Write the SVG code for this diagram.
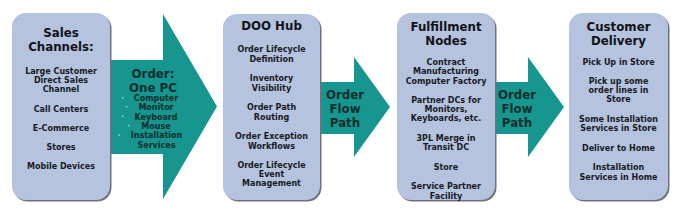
<svg xmlns="http://www.w3.org/2000/svg" width="682" height="213" viewBox="0 0 682 213">
<style>
.bg{fill:#ffffff}
.arrow{fill:#17968f}
.box{fill:#b6c3de}
.shadow{fill:#6d727d}
.title{font-family:"DejaVu Sans",Verdana,sans-serif;font-weight:bold;font-size:11.8px;fill:#111318;text-anchor:middle}
.body{font-family:"DejaVu Sans",Verdana,sans-serif;font-weight:bold;font-size:8px;fill:#161a24;text-anchor:middle}
.atitle{font-family:"DejaVu Sans",Verdana,sans-serif;font-weight:bold;font-size:11.8px;fill:#0c2e2d;text-anchor:middle}
.abody{font-family:"DejaVu Sans",Verdana,sans-serif;font-weight:bold;font-size:8px;fill:#0c2e2d;text-anchor:middle}
.bullet{fill:#8cc7b4}
</style>
<rect class="bg" x="0" y="0" width="682" height="213"/>
<g id="connectors">
  <g id="arrow-order">
    <polygon class="arrow" points="100,60 163,60 163,14 217,106.5 163,199 163,154 100,154"/>
    <text class="atitle" x="153" y="78">Order:</text>
    <text class="atitle" x="153" y="91.5">One PC</text>
    <circle class="bullet" cx="122.7" cy="97.7" r="1"/>
    <circle class="bullet" cx="126.7" cy="106.7" r="1"/>
    <circle class="bullet" cx="122.7" cy="116.2" r="1"/>
    <circle class="bullet" cx="129" cy="125.5" r="1"/>
    <circle class="bullet" cx="119" cy="135" r="1"/>
    <text class="abody" x="156" y="101.3">Computer</text>
    <text class="abody" x="156" y="110.3">Monitor</text>
    <text class="abody" x="156" y="119.6">Keyboard</text>
    <text class="abody" x="156" y="128.8">Mouse</text>
    <text class="abody" x="156.5" y="138.3">Installation</text>
    <text class="abody" x="156.5" y="147.8">Services</text>
  </g>
  <g id="arrow-flow-1">
    <polygon class="arrow" points="312,82 354,82 354,57 390,107 354,157 354,134 312,134"/>
    <text class="atitle" x="345" y="98.5">Order</text>
    <text class="atitle" x="345" y="112.5">Flow</text>
    <text class="atitle" x="345" y="126.5">Path</text>
  </g>
  <g id="arrow-flow-2">
    <polygon class="arrow" points="487,82 528,82 528,57 564,107 528,157 528,134 487,134"/>
    <text class="atitle" x="517" y="98.5">Order</text>
    <text class="atitle" x="517" y="112.5">Flow</text>
    <text class="atitle" x="517" y="126.5">Path</text>
  </g>
</g>
<g id="sales-channels">
  <rect class="shadow" x="13.5" y="14.5" width="98" height="187" rx="14"/>
  <rect class="box" x="12" y="13" width="98" height="187" rx="14"/>
  <text class="title" x="61" y="37">Sales</text>
  <text class="title" x="61" y="51">Channels:</text>
  <text class="body" x="61" y="74">Large Customer</text>
  <text class="body" x="61" y="83">Direct Sales</text>
  <text class="body" x="61" y="92.3">Channel</text>
  <text class="body" x="61" y="111.7">Call Centers</text>
  <text class="body" x="61" y="130.7">E-Commerce</text>
  <text class="body" x="61" y="150.3">Stores</text>
  <text class="body" x="61" y="169">Mobile Devices</text>
</g>
<g id="doo-hub">
  <rect class="shadow" x="224.5" y="15.5" width="97" height="186" rx="14"/>
  <rect class="box" x="223" y="14" width="97" height="186" rx="14"/>
  <text class="title" x="271.5" y="29.5">DOO Hub</text>
  <text class="body" x="271.5" y="52.3">Order Lifecycle</text>
  <text class="body" x="271.5" y="62">Definition</text>
  <text class="body" x="271.5" y="81.3">Inventory</text>
  <text class="body" x="271.5" y="91.3">Visibility</text>
  <text class="body" x="271.5" y="110.3">Order Path</text>
  <text class="body" x="271.5" y="119.7">Routing</text>
  <text class="body" x="271.5" y="139">Order Exception</text>
  <text class="body" x="271.5" y="148.7">Workflows</text>
  <text class="body" x="271.5" y="168">Order Lifecycle</text>
  <text class="body" x="271.5" y="177">Event</text>
  <text class="body" x="271.5" y="186.3">Management</text>
</g>
<g id="fulfillment-nodes">
  <rect class="shadow" x="398.5" y="14.5" width="98" height="187" rx="14"/>
  <rect class="box" x="397" y="13" width="98" height="187" rx="14"/>
  <text class="title" x="446" y="30.5">Fulfillment</text>
  <text class="title" x="446" y="44.5">Nodes</text>
  <text class="body" x="446" y="64.7">Contract</text>
  <text class="body" x="446" y="74">Manufacturing</text>
  <text class="body" x="446" y="83.7">Computer Factory</text>
  <text class="body" x="446" y="103">Partner DCs for</text>
  <text class="body" x="446" y="112">Monitors,</text>
  <text class="body" x="446" y="121.3">Keyboards, etc.</text>
  <text class="body" x="446" y="140.7">3PL Merge in</text>
  <text class="body" x="446" y="150.3">Transit DC</text>
  <text class="body" x="446" y="169.7">Store</text>
  <text class="body" x="446" y="189">Service Partner</text>
  <text class="body" x="446" y="198.5">Facility</text>
</g>
<g id="customer-delivery">
  <rect class="shadow" x="570.5" y="14.5" width="99" height="187" rx="14"/>
  <rect class="box" x="569" y="13" width="99" height="187" rx="14"/>
  <text class="title" x="618.5" y="30.5">Customer</text>
  <text class="title" x="618.5" y="44.5">Delivery</text>
  <text class="body" x="618.5" y="64.7">Pick Up in Store</text>
  <text class="body" x="618.5" y="83.7">Pick up some</text>
  <text class="body" x="618.5" y="93">order lines in</text>
  <text class="body" x="618.5" y="102.3">Store</text>
  <text class="body" x="618.5" y="122">Some Installation</text>
  <text class="body" x="618.5" y="131.3">Services in Store</text>
  <text class="body" x="618.5" y="150.7">Deliver to Home</text>
  <text class="body" x="618.5" y="169.7">Installation</text>
  <text class="body" x="618.5" y="179.7">Services in Home</text>
</g>
</svg>
